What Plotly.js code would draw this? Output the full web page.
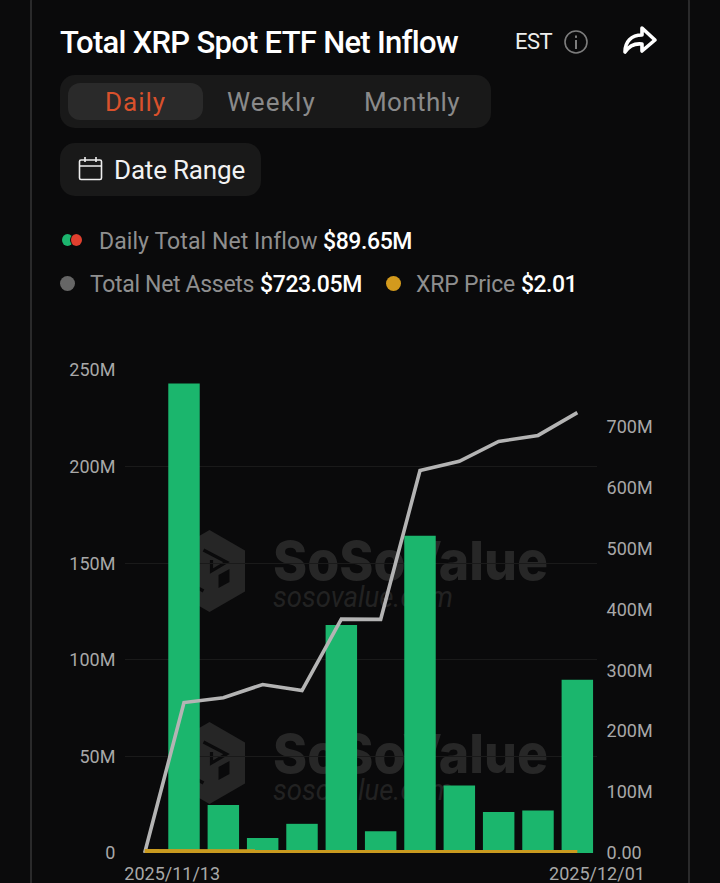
<!DOCTYPE html>
<html><head><meta charset="utf-8">
<script src="https://cdn.plot.ly/plotly-3.0.1.min.js"></script>
<style>
html,body{margin:0;padding:0;background:#0b0b0c;width:720px;height:883px;overflow:hidden;font-family:Roboto,sans-serif}
#card{position:absolute;left:30px;top:-16px;width:656px;height:940px;border:2px solid #2a2a2b;border-radius:18px;background:#0a0a0b}
.b{position:absolute}
.t{position:absolute;white-space:nowrap;line-height:1;transform:translateY(-50%)}
#chart{position:absolute;left:0;top:0;width:720px;height:883px}
.gtitle{letter-spacing:-0.72px}
</style></head><body>
<div id="card"></div>
<div class="b" style="left:60px;top:75px;width:431px;height:53px;background:#191919;border-radius:15px"></div>
<div class="b" style="left:68px;top:83px;width:135px;height:37px;background:#2a2a2a;border-radius:12px"></div>
<div class="b" style="left:60px;top:143px;width:201px;height:53px;background:#191919;border-radius:15px"></div>
<div class="b" style="left:62px;top:234px;width:11px;height:12px;background:#1cb56e;border-radius:50%"></div>
<div class="b" style="left:70px;top:234px;width:12px;height:12px;background:#e0402f;border-radius:50%;border-left:1px solid #0a0a0b;box-sizing:border-box"></div>
<div class="b" style="left:60px;top:276px;width:15px;height:15px;background:#666;border-radius:50%"></div>
<div class="b" style="left:386px;top:276px;width:15px;height:15px;background:#d39a1d;border-radius:50%"></div>

<div class="t" data-w="37" style="left:515px;top:42px;font-size:22px;color:#eee">EST</div>
<div class="t" data-w="61" style="left:105px;top:102px;font-size:26px;color:#d9512c">Daily</div>
<div class="t" data-w="89" style="left:227px;top:102px;font-size:26px;color:#8a8a8a">Weekly</div>
<div class="t" data-w="96" style="left:364px;top:102px;font-size:26px;color:#8a8a8a">Monthly</div>
<div class="t" data-w="131" style="left:114px;top:170px;font-size:26px;color:#f2f2f2">Date Range</div>
<div class="t" data-w="218" style="left:99px;top:241px;font-size:23px;color:#8f8f8f">Daily Total Net Inflow</div>
<div class="t" data-w="89" style="left:323px;top:241px;font-size:23px;color:#fff;font-weight:500">$89.65M</div>
<div class="t" data-w="164" style="left:90px;top:284px;font-size:23px;color:#8f8f8f">Total Net Assets</div>
<div class="t" data-w="102" style="left:260px;top:284px;font-size:23px;color:#fff;font-weight:500">$723.05M</div>
<div class="t" data-w="99" style="left:416px;top:284px;font-size:23px;color:#8f8f8f">XRP Price</div>
<div class="t" data-w="56" style="left:521px;top:284px;font-size:23px;color:#fff;font-weight:500">$2.01</div>

<svg class="b" style="left:0;top:0" width="720" height="883" fill="none">
 <defs>
  <g id="logo">
   <path fill="#262626" d="M0 -41 L35.5 -20.5 V20.5 L0 41 L-35.5 20.5 V-20.5 Z"/>
   <path stroke="#0a0a0b" stroke-width="3.2" stroke-linejoin="miter" d="M-6 -21 L17 -9 L2 0 V-11 M-17 -12 L-17 14 L-6 20"/>
   <path fill="#0a0a0b" d="M9 4 L20 -2 V11 L9 17 Z"/>
  </g>
 </defs>
 <circle cx="576" cy="42" r="11" stroke="#7d7d7d" stroke-width="1.6"/>
 <rect x="575" y="40" width="2" height="9" fill="#7d7d7d"/><rect x="575" y="35.5" width="2" height="2.4" fill="#7d7d7d"/>
 <path d="M642 28 L655 40 L642 51 L642 44 C634 43 629 46 625 52 C625 42 631 35 642 35 Z" stroke="#fff" stroke-width="3.6" stroke-linejoin="round"/>
 <rect x="79.5" y="160" width="22" height="19.5" rx="1.5" stroke="#eee" stroke-width="1.6"/>
 <path d="M79.5 166 H101.5 M85 157 V162 M96 157 V162" stroke="#eee" stroke-width="1.6"/>
 <use href="#logo" x="209.5" y="571"/>
 <use href="#logo" x="209.5" y="763"/>
 <text x="273" y="580" font-family="Inter" font-weight="800" font-size="54" fill="#272727" textLength="275" lengthAdjust="spacingAndGlyphs">SoSoValue</text>
 <text x="273" y="607" font-family="Roboto" font-style="italic" font-size="30" fill="#222" textLength="180" lengthAdjust="spacingAndGlyphs">sosovalue.com</text>
 <text x="273" y="773" font-family="Inter" font-weight="800" font-size="54" fill="#272727" textLength="275" lengthAdjust="spacingAndGlyphs">SoSoValue</text>
 <text x="273" y="800" font-family="Roboto" font-style="italic" font-size="30" fill="#222" textLength="180" lengthAdjust="spacingAndGlyphs">sosovalue.com</text>
</svg>
<div id="chart"></div>
<script>
var dates = ['2025/11/13','2025/11/14','2025/11/17','2025/11/18','2025/11/19','2025/11/20','2025/11/21','2025/11/24','2025/11/25','2025/11/26','2025/11/28','2025/12/01'];
var netInflow = [0,243.05,24.8,7.7,15.1,118,11.3,164.2,34.9,21.2,22,89.65];
var netAssets = [0,247,255,276.6,266.7,384,383.5,628,643,675.7,685.6,723.05];
var xrpPrice = [2.3,2.3,2.25,2.2,2.15,2.05,1.95,2.2,2.25,2.2,2.15,2.01];
var leftTicks = [0,50,100,150,200,250];
var leftLabels = ['0','50M','100M','150M','200M','250M'];
var rightTicks = [0,100,200,300,400,500,600,700];
var rightLabels = ['0.00','100M','200M','300M','400M','500M','600M','700M'];
var xTickPos = [0.7,11.5];
var xTickLabels = ['2025/11/13','2025/12/01'];

var tickFont = {family:'Roboto, sans-serif',size:18,color:'#a8a8a8'};
var traces = [
 {type:'bar',name:'Daily Total Net Inflow',x:dates,y:netInflow,marker:{color:'#1bb66d',line:{width:0}},yaxis:'y',hoverinfo:'skip'},
 {type:'scatter',mode:'lines',name:'Total Net Assets',x:dates,y:netAssets,line:{color:'#b4b4b4',width:3.6},yaxis:'y2',cliponaxis:false,hoverinfo:'skip'},
 {type:'scatter',mode:'lines',name:'XRP Price',x:dates,y:xrpPrice,line:{color:'#c99a1f',width:4},yaxis:'y3',cliponaxis:false,hoverinfo:'skip'}
];
var layout = {
 width:720,height:883,autosize:false,showlegend:false,
 paper_bgcolor:'rgba(0,0,0,0)',plot_bgcolor:'rgba(0,0,0,0)',
 margin:{l:125,r:123,t:370.3,b:30,pad:0},
 bargap:0.2,
 title:{text:'Total XRP Spot ETF Net Inflow',x:60/720,xanchor:'left',xref:'container',y:1-42/883,yanchor:'middle',yref:'container',
  font:{family:'Roboto, sans-serif',size:31,weight:500,color:'#ffffff'}},
 xaxis:{type:'category',categoryorder:'array',categoryarray:dates,range:[-0.5,11.5],tickmode:'array',tickvals:xTickPos,ticktext:xTickLabels,
  tickfont:tickFont,tickangle:0,ticks:'outside',ticklen:4,tickcolor:'rgba(0,0,0,0)',showgrid:false,zeroline:false,showline:false},
 yaxis:{range:[0,250],tickmode:'array',tickvals:leftTicks,ticktext:leftLabels,tickfont:tickFont,ticks:'outside',ticklen:5,tickcolor:'rgba(0,0,0,0)',
  showgrid:true,gridcolor:'#1a1a1a',gridwidth:1,zeroline:false,showline:false},
 yaxis2:{overlaying:'y',side:'right',range:[0,793],tickmode:'array',tickvals:rightTicks,ticktext:rightLabels,tickfont:tickFont,ticks:'outside',ticklen:5,tickcolor:'rgba(0,0,0,0)',
  showgrid:false,zeroline:false,showline:false},
 yaxis3:{overlaying:'y',range:[0,590],visible:false,showgrid:false,zeroline:false}
};
Plotly.newPlot('chart',traces,layout,{displayModeBar:false,staticPlot:true});

function fit(){
 document.querySelectorAll('.t[data-w]').forEach(function(el){
  el.style.letterSpacing='0';
  var w=el.getBoundingClientRect().width, n=el.textContent.length;
  el.style.letterSpacing=((+el.dataset.w-w)/n)+'px';
 });
}
fit();
if(document.fonts&&document.fonts.ready)document.fonts.ready.then(fit);
</script>
</body></html>
